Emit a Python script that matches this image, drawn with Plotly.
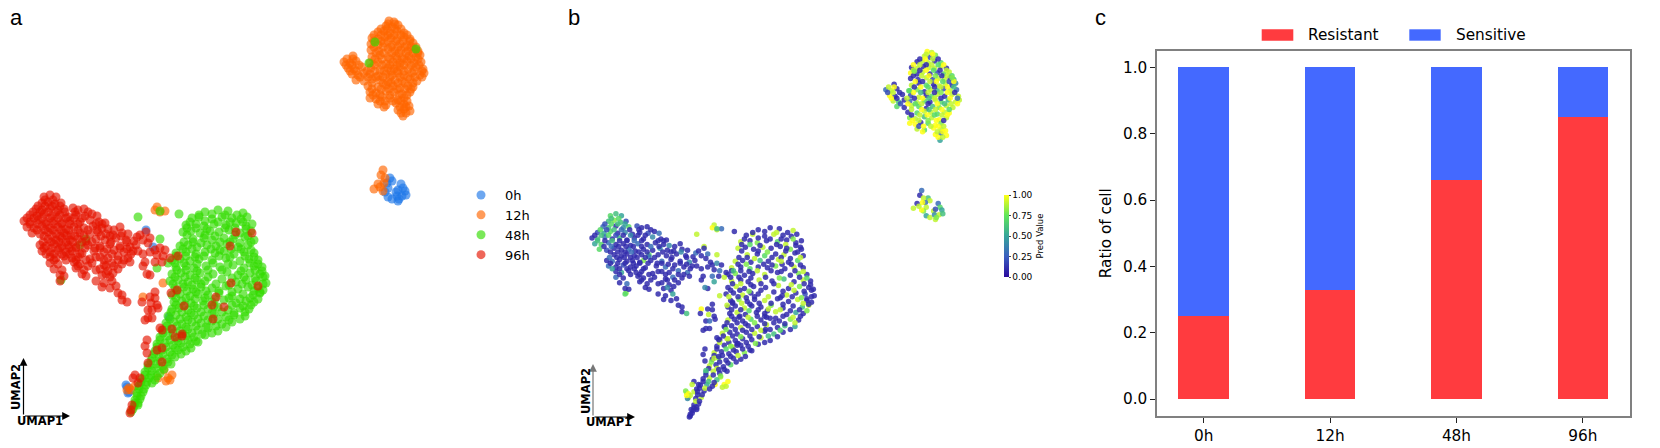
import plotly.graph_objects as go

W, H = 1660, 448

time_labels = ['0h', '12h', '48h', '96h']
resistant = [0.25, 0.33, 0.66, 0.85]
sensitive = [0.75, 0.67, 0.34, 0.15]

cells_0h = [
    (390,270,.6),(392,267,.9),(387,265,.3),(388,260,.9),(385,256,.8),(388,251,.5),(392,249,.9),(396,256,.9),
    (397,252,.4),(398,247,.9),(401,264,.3),(403,260,.7),(405,257,.5),(402,252,.9),(399,249,.8),(406,253,.6),
    (398,258,.2),(127,61,.9),(129,56,.9),(126,63,.8),(128,55,.4),(146,218,.9),(153,201,.1),(169,131,.2),
]
cells_12h = [
    (389,427,1),(394,426,.9),(386,422,.9),(392,421,.2),(398,423,.8),(378,416,.1),(384,417,.9),(390,415,.9),(397,417,.1),(404,415,.7),
    (372,410,.1),(378,409,.9),(385,411,.1),(391,410,.9),(397,409,.9),(404,411,.9),(410,409,.1),
    (371,404,1),(378,403,.1),(384,405,.9),(392,403,.1),(400,404,.2),(407,403,.7),(413,405,.9),
    (371,398,.1),(379,397,.1),(388,399,.9),(395,397,.2),(401,398,.9),(408,397,.9),(414,399,.1),(418,397,.6),
    (353,392,.1),(372,391,.9),(380,393,.1),(388,391,.7),(396,392,.1),(402,390,.9),(409,392,.9),(416,391,.1),(420,393,.4),
    (344,386,.3),(350,385,.9),(356,387,.1),(370,385,.7),(378,386,.8),(386,384,.1),(393,386,.9),(400,385,.6),(407,387,.2),(414,385,.9),(421,386,.3),
    (348,380,1),(354,379,.1),(362,381,.1),(371,380,.2),(380,378,.9),(388,380,.1),(394,379,.7),(400,381,.9),(408,379,.1),(416,381,.9),(423,379,.9),
    (352,374,.9),(358,373,.6),(364,375,.1),(370,374,.3),(378,372,.9),(386,374,.7),(392,373,.1),(398,375,.9),(404,373,.7),(412,375,.6),(420,373,.9),(424,375,.9),
    (356,368,.7),(364,367,.1),(372,369,.9),(380,368,.7),(388,366,.1),(395,368,.6),(402,367,.8),(410,369,.9),(417,367,.9),
    (368,362,.1),(378,361,.7),(386,363,.9),(393,362,.9),(400,360,.7),(408,362,.9),(413,361,1),
    (370,356,.8),(376,355,.9),(386,357,.6),(394,356,.9),(402,354,1),(410,356,.9),
    (370,350,1),(376,349,1),(382,351,.1),(390,350,.7),(398,348,1),(404,350,.8),
    (378,344,.9),(386,343,.7),(396,345,1),(404,344,.9),(409,342,1),
    (398,338,1),(404,339,.3),(410,337,1),(403,332,.5),
    (388,424,.9),(395,424,1),(381,419,.1),(387,419,1),(395,419,.9),(401,419,.1),
    (374,413,1),(381,413,.9),(388,413,.1),(394,413,.9),(401,413,.7),(407,413,1),
    (374,407,.9),(381,407,.1),(388,407,1),(396,407,.7),(403,407,.1),(410,407,.9),
    (374,401,.1),(383,401,.9),(391,401,1),(398,401,.8),(405,401,.1),(411,401,.9),(416,401,.7),
    (376,395,1),(384,395,.1),(392,395,.9),(399,395,1),(406,395,.7),(413,395,.2),(418,395,1),
    (347,389,.9),(353,389,1),(375,389,.1),(382,389,1),(390,389,.7),(397,389,.1),(404,389,.9),(411,389,1),(418,389,.6),
    (346,383,.2),(352,383,.9),(359,383,.1),(374,383,1),(382,383,.6),(390,383,.9),(397,383,.1),(404,383,.8),(411,383,1),(419,383,.1),
    (350,377,1),(356,377,.1),(367,377,.9),(375,377,.1),(384,377,1),(391,377,.6),(397,377,.9),(404,377,.1),(414,377,1),(422,377,.3),
    (360,371,.2),(368,371,1),(376,371,.7),(383,371,.9),(390,371,.1),(400,371,1),(408,371,.6),(415,371,.9),(422,371,1),
    (372,365,.9),(383,365,1),(391,365,.6),(398,365,.9),(405,365,1),(413,365,.7),
    (372,359,.1),(381,359,.9),(389,359,1),(397,359,.7),(405,359,.9),(411,359,1),
    (373,353,1),(380,353,.9),(390,353,.8),(399,353,1),(407,353,.1),
    (380,347,.2),(385,347,1),(393,347,.9),(401,347,1),(407,347,.9),
    (384,341,1),(400,341,.9),(406,341,1),(401,335,1),(406,335,.9),
    (383,278,.3),(381,273,.1),(385,270,.9),(384,265,1),(378,264,.1),(374,259,.9),(383,257,1),(380,261,.9),
    (157,241,.9),(160,236,.9),(165,237,.3),(155,238,1),(168,70,1),(170,68,.9),(166,67,.9),(172,73,1),(164,78,.9),(158,70,1),
    (143,151,1),(163,165,.9),(129,60,1),(131,58,.9),(135,62,.9),(127,58,1),
]
cells_48h = [
    (205,236,.1),(218,238,.1),(228,237,.1),(243,235,.9),
    (192,230,.1),(199,231,.9),(212,229,.1),(222,231,.9),(232,230,.1),(241,229,.1),(247,231,.1),
    (186,223,.9),(196,224,.1),(204,222,.8),(214,224,.1),(226,223,.7),(236,225,.1),(246,222,.1),(252,224,.1),
    (183,216,.9),(191,217,.1),(200,215,.1),(210,217,.9),(219,216,.1),(229,218,.1),(240,215,.8),(251,217,.1),
    (193,209,.9),(204,210,.1),(212,208,.7),(224,210,.1),(233,209,.9),(245,211,.1),(254,208,.1),
    (180,202,.9),(188,203,.1),(197,201,.1),(207,203,.6),(216,202,.1),(227,204,.9),(238,201,.1),(248,203,.7),
    (176,195,.9),(186,196,.1),(196,194,.7),(205,196,.1),(215,195,.1),(224,197,.8),(234,194,.1),(244,196,.9),(254,195,.1),
    (172,188,.1),(180,189,.8),(190,187,.1),(199,189,.1),(212,188,.9),(226,190,.1),(240,187,.1),(249,189,.8),(258,188,.1),
    (176,181,.9),(186,182,.1),(194,180,.1),(206,182,.9),(220,181,.1),(233,183,.6),(244,180,.1),(254,182,.9),(262,181,.1),
    (172,174,.1),(181,175,.9),(190,173,.1),(200,175,.1),(213,174,.1),(227,176,.9),(238,173,.1),(250,175,.8),(260,174,.1),(265,172,.1),
    (170,167,.1),(178,168,.1),(188,166,.9),(197,168,.1),(205,167,.1),(222,169,.1),(236,166,.9),(246,168,.1),(256,167,.2),(266,165,.1),
    (175,160,.1),(184,161,.8),(193,159,.1),(201,161,.1),(212,160,.9),(226,162,.1),(238,159,.1),(248,161,.9),(258,160,.1),(263,158,.1),
    (172,153,.1),(180,154,.1),(190,152,.9),(198,154,.1),(208,153,.1),(219,155,.8),(232,152,.1),(243,154,.1),(253,153,.6),(260,155,.9),
    (174,146,.1),(182,147,.9),(191,145,.1),(203,147,.1),(212,146,.1),(224,148,.9),(236,145,.1),(246,147,.5),(254,146,.1),
    (172,139,.9),(179,140,.1),(188,138,.1),(197,140,.7),(208,139,.1),(218,141,.1),(228,138,.1),(240,140,.8),(249,139,.1),
    (168,132,.1),(176,133,.1),(186,131,.9),(194,133,.1),(204,132,.1),(214,134,.9),(226,131,.1),(234,133,.6),(245,132,.5),
    (166,125,.9),(174,126,.1),(182,124,.1),(192,126,.1),(201,125,.9),(212,127,.1),(222,124,.6),(232,126,.1),
    (163,118,.1),(171,119,.9),(180,117,.1),(188,119,.1),(198,118,.1),(208,120,.9),(218,117,.1),
    (160,111,.1),(168,112,.1),(177,110,.9),(186,112,.1),(194,111,.1),(205,113,.1),
    (157,104,.9),(165,105,.1),(173,103,.1),(181,105,.1),(190,104,.8),(198,106,.1),
    (155,97,.1),(162,98,.8),(170,96,.1),(178,98,.1),(186,97,.1),
    (152,90,.9),(159,91,.1),(167,89,.1),(175,91,.7),
    (148,83,.5),(156,84,.9),(163,82,.1),(171,84,.1),
    (145,76,.1),(152,77,.9),(160,75,.6),(142,69,.1),(149,70,.5),(155,68,.1),
    (139,62,.1),(146,63,.1),(137,55,.1),(143,56,.9),(135,48,.1),(140,49,.1),(134,42,.1),(138,43,.1),(131,36,.1),
    (179,234,.1),(138,231,.9),(160,209,.9),(157,180,.5),(86,209,.7),(80,203,.8),(61,168,.8),(160,237,.6),(168,185,.9),
    (375,406,.8),(416,399,.8),(369,385,.7),
    (199,233,.1),(212,234,.1),(225,233,.9),(237,233,.1),(190,226,.1),(205,227,.1),(218,226,.1),(230,226,.1),(243,226,.8),
    (187,220,.1),(196,220,.7),(207,219,.1),(225,220,.1),(235,220,.9),(246,219,.1),(187,213,.1),(205,213,.1),(215,212,.8),(235,213,.1),(248,212,.1),
    (184,206,.1),(193,206,.1),(201,205,.9),(220,206,.1),(230,206,.1),(240,205,.1),(251,206,.9),(183,199,.1),(192,199,.8),(211,199,.1),(220,198,.1),(231,199,.1),(241,199,.1),(251,198,.1),
    (176,192,.1),(186,192,.1),(195,191,.1),(204,192,.9),(219,192,.1),(230,191,.1),(245,192,.1),(254,191,.9),(175,185,.1),(184,185,.1),(197,184,.1),(213,185,.1),(228,184,.8),(250,185,.1),(258,184,.7),
    (177,178,.1),(186,178,.9),(197,177,.1),(208,178,.1),(222,178,.1),(241,177,.9),(255,178,.1),(262,177,.1),(175,171,.1),(185,171,.1),(195,170,.8),(208,171,.1),(232,170,.1),(244,171,.9),(255,170,.1),(263,171,.1),
    (173,164,.9),(183,164,.1),(192,163,.1),(201,164,.1),(216,164,.9),(229,163,.1),(242,164,.1),(252,163,.8),(263,164,.1),(177,157,.1),(187,157,.9),(196,156,.1),(206,157,.1),(219,157,.1),(232,156,.1),(254,157,.9),(260,156,.1),
    (176,150,.1),(186,150,.1),(195,149,.7),(205,150,.1),(215,149,.1),(229,150,.9),(240,149,.1),(250,150,.1),(258,149,.8),(176,143,.1),(185,143,.1),(194,142,.9),(204,143,.1),(214,142,.1),(232,143,.1),(243,142,.9),(251,143,.1),
    (171,136,.1),(182,136,.1),(191,135,.1),(201,136,.8),(212,135,.1),(222,136,.1),(234,135,.1),(245,136,.9),(170,129,.8),(180,129,.1),(188,128,.1),(198,129,.1),(208,128,.9),(218,129,.1),(229,128,.7),(240,129,.1),
    (167,122,.1),(177,122,.1),(186,121,.8),(196,122,.1),(206,121,.1),(216,122,.6),(226,121,.1),(163,115,.9),(173,115,.1),(183,114,.1),(192,115,.1),(202,114,.8),(212,115,.1),
    (160,108,.1),(170,108,.7),(178,107,.1),(188,108,.1),(196,107,.1),(157,101,.1),(166,101,.1),(175,100,.1),(183,101,.9),(191,100,.1),(154,94,.8),(163,94,.1),(172,93,.1),(181,94,.1),
    (151,87,.1),(160,87,.9),(168,86,.1),(148,80,.1),(156,80,.1),(164,79,.8),(145,73,.1),(151,73,.6),(157,72,.1),(141,66,.1),(147,66,.9),(152,65,.1),(139,59,.1),(144,59,.1),(137,52,.9),(141,52,.1),(135,45,.1),(138,45,.1),(133,39,.1),
]
cells_96h = [
    (44,251,.7),(50,253,.6),(56,251,.5),(42,245,.6),(48,246,.8),(55,244,.6),(61,245,.2),
    (36,239,.3),(42,238,.6),(50,240,.1),(58,238,.4),(64,239,.7),(73,240,.2),(78,238,.1),(84,239,.1),
    (30,233,.2),(37,232,.5),(44,234,.7),(52,232,.1),(60,233,.4),(68,231,.1),(76,233,.1),(85,232,.2),(92,234,.1),(97,232,.3),
    (24,227,.1),(30,226,.6),(38,228,.3),(46,226,.1),(54,227,.6),(62,225,.1),(70,227,.1),(80,226,.1),(90,228,.4),(99,226,.1),(105,225,.1),
    (27,221,.5),(34,220,.7),(42,222,.3),(50,220,.1),(58,221,.1),(66,219,.1),(74,221,.3),(84,220,.1),(93,222,.1),(102,220,.1),(108,219,.4),(120,221,.1),
    (32,215,.7),(40,214,.2),(48,216,.1),(56,214,.1),(64,215,.3),(71,213,.1),(80,215,.1),(90,214,.1),(98,216,.4),(106,214,.1),(113,213,.1),(122,215,.1),
    (48,209,.1),(56,208,.1),(62,210,.1),(70,208,.1),(78,209,.1),(86,207,.3),(96,209,.1),(105,208,.1),(116,210,.1),(126,208,.1),(134,207,.1),
    (40,203,.1),(46,202,.3),(54,204,.1),(62,202,.1),(68,203,.1),(76,201,.1),(88,203,.1),(100,202,.3),(110,204,.1),(120,202,.1),(130,201,.4),(136,203,.1),
    (42,197,.3),(50,196,.1),(58,198,.2),(66,196,.1),(72,197,.1),(82,195,.1),(94,197,.1),(104,196,.3),(114,198,.1),(124,196,.1),(133,197,.1),
    (50,191,.1),(56,190,.5),(64,192,.1),(72,190,.1),(78,191,.1),(90,189,.1),(100,191,.1),(108,190,.1),(118,192,.3),(128,190,.3),
    (50,185,.3),(58,184,.1),(74,186,.1),(80,184,.1),(92,185,.1),(104,183,.1),(112,185,.3),(122,184,.1),(130,186,.1),
    (54,179,.1),(62,178,.3),(76,180,.1),(84,178,.1),(100,179,.1),(108,177,.1),(118,179,.1),
    (60,173,.1),(64,172,.1),(82,174,.1),(86,172,.1),(102,173,.1),(110,171,.1),(106,174,.4),
    (60,167,.7),(96,167,.1),(104,165,.1),(112,167,.5),(102,161,.1),(110,160,.1),(116,162,.1),(118,155,.1),(122,153,.1),(122,148,.1),(127,146,.6),
    (45,248,.6),(53,248,.7),(38,242,.2),(45,242,.7),(52,242,.6),(60,242,.5),(33,236,.7),(40,236,.2),(48,236,.6),(56,236,.3),(65,236,.1),(75,236,.1),(88,236,.1),
    (27,230,.1),(34,230,.6),(42,230,.7),(50,230,.2),(58,230,.1),(66,230,.4),(74,230,.1),(82,230,.1),(30,224,.6),(38,224,.1),(46,224,.6),(54,224,.1),(62,224,.1),(70,224,.3),(78,224,.1),(96,224,.1),
    (37,218,.1),(45,218,.3),(53,218,.1),(61,218,.1),(69,218,.1),(78,218,.1),(88,218,.3),(97,218,.1),(114,218,.1),(44,212,.1),(52,212,.1),(60,212,.1),(67,212,.3),(75,212,.1),(84,212,.1),(101,212,.1),(121,212,.4),
    (43,206,.3),(51,206,.1),(59,206,.1),(66,206,.1),(73,206,.1),(82,206,.1),(92,206,.1),(111,206,.1),(127,206,.1),(44,200,.1),(52,200,.1),(60,200,.1),(69,200,.1),(76,200,.1),(85,200,.1),(100,200,.1),(120,200,.1),
    (46,194,.5),(54,194,.1),(62,194,.1),(70,194,.1),(80,194,.1),(112,194,.1),(131,194,.1),(54,188,.1),(66,188,.1),(76,188,.1),(86,188,.1),(104,188,.1),(118,188,.1),(78,182,.1),(88,182,.1),(106,182,.1),(114,182,.1),
    (102,224,.1),(110,212,.1),(128,214,.1),(137,211,.3),(95,200,.1),(107,199,.1),(127,199,.1),(138,197,.1),(96,191,.1),(124,188,.1),(96,178,.1),(113,175,.1),
    (140,213,.1),(146,216,.1),(150,210,.3),(143,208,.1),(148,205,.1),(155,198,.1),(160,200,.4),(165,198,.1),(150,196,.1),(157,193,.1),
    (163,192,.3),(143,194,.1),(145,186,.1),(155,186,.3),(162,186,.1),(170,190,.1),(178,192,.6),(150,173,.1),(147,174,.4),(143,182,.1),
    (150,151,.1),(155,156,.1),(151,145,.9),(148,138,.1),(152,138,.3),(157,143,.1),(148,130,.1),(152,130,.1),(158,140,.1),(145,128,.1),(142,146,.1),(155,150,.1),
    (236,216,.1),(252,215,.1),(230,202,.9),(231,165,.1),(258,162,.1),(216,151,.9),(212,143,.1),(213,129,.1),(224,141,.1),(177,158,.1),
    (171,155,.9),(184,142,.1),(182,112,.1),(175,111,.8),(182,114,.1),(162,118,.1),(160,120,.1),(172,119,.9),(147,108,.1),(145,102,.1),
    (147,95,.1),(157,98,.9),(162,100,.1),(162,86,.1),(148,85,.6),(135,73,.1),(133,70,.9),(138,65,.1),(140,70,.1),(130,35,.1),(131,38,.1),(132,43,.1),
]

series = [cells_0h, cells_12h, cells_48h, cells_96h]
series_colors = ['#1F78E8', '#FF6600', '#32DC00', '#E51400']
pred_scale = [[0, '#2B0A9E'], [0.25, '#3A5FC0'], [0.5, '#36A59A'], [0.75, '#5FE65A'], [1, '#FFFF14']]
bar_colors = {'Resistant': '#FF3B3F', 'Sensitive': '#4469FF'}
font_name = 'DejaVu Sans'

fig = go.Figure()

for label, cells, color in zip(time_labels, series, series_colors):
    fig.add_trace(go.Scatter(x=[c[0] for c in cells], y=[c[1] for c in cells], mode='markers', name=label,
                             marker=dict(size=9, color=color, opacity=0.65, line=dict(width=0)),
                             xaxis='x', yaxis='y'))

all_cells = cells_0h + cells_12h + cells_48h + cells_96h
fig.add_trace(go.Scatter(x=[c[0] for c in all_cells], y=[c[1] for c in all_cells], mode='markers', showlegend=False,
                         marker=dict(size=5.5, color=[c[2] for c in all_cells], cmin=0, cmax=1, colorscale=pred_scale,
                                     opacity=0.85, line=dict(width=0),
                                     colorbar=dict(thickness=5, len=82, lenmode='pixels', x=1004 / W, xanchor='left',
                                                   y=(H - 277) / H, yanchor='bottom', outlinewidth=0, ticks='outside',
                                                   xpad=0, ypad=0, ticklen=2, tickwidth=1, tickvals=[0, 0.25, 0.5, 0.75, 1],
                                                   ticktext=['0.00', '0.25', '0.50', '0.75', '1.00'],
                                                   tickfont=dict(size=9, family=font_name, color='black'),
                                                   title=dict(text='Pred Value', side='right',
                                                              font=dict(size=8.5, family=font_name, color='black')))),
                         xaxis='x2', yaxis='y2'))

for name, values in [('Resistant', resistant), ('Sensitive', sensitive)]:
    fig.add_trace(go.Bar(x=time_labels, y=values, name=name, width=0.4, showlegend=False,
                         marker=dict(color=bar_colors[name], line=dict(width=0)), xaxis='x3', yaxis='y3'))

annotations = []
shapes = []


def add_text(x, y, text, size, family=font_name, angle=0, bold=False, xanchor='center'):
    annotations.append(dict(xref='paper', yref='paper', x=x / W, y=1 - y / H, text='<b>%s</b>' % text if bold else text,
                            showarrow=False, textangle=angle, xanchor=xanchor, yanchor='middle',
                            font=dict(size=size, family=family, color='black')))


def add_arrow(x0, y0, x1, y1, color='black'):
    annotations.append(dict(xref='paper', yref='paper', x=x1 / W, y=1 - y1 / H, axref='pixel', ayref='pixel',
                            ax=x0 - x1, ay=y0 - y1, text='', showarrow=True, arrowhead=2, arrowsize=1.3,
                            arrowwidth=1.2, arrowcolor=color))


add_text(16, 17, 'a', 22, 'Liberation Sans')
add_text(574, 17, 'b', 22, 'Liberation Sans')
add_text(1100, 17, 'c', 22, 'Liberation Sans')

add_arrow(23.5, 416, 23.5, 358)
add_arrow(23.5, 416, 70, 416)
add_text(40, 421, 'UMAP1', 11.5, bold=True)
add_text(16, 387, 'UMAP2', 11.5, angle=-90, bold=True)

add_arrow(593, 417, 593, 364, '#777777')
add_arrow(593, 417, 635, 417)
add_text(609, 422, 'UMAP1', 11.5, bold=True)
add_text(586, 391, 'UMAP2', 11.5, angle=-90, bold=True)

for x0, x1, name in [(1261.7, 1293.3, 'Resistant'), (1409.3, 1440.7, 'Sensitive')]:
    shapes.append(dict(type='rect', xref='paper', yref='paper', x0=x0 / W, x1=x1 / W, y0=1 - 40.7 / H, y1=1 - 29.3 / H,
                       fillcolor=bar_colors[name], line=dict(width=0)))
    add_text(x1 + 13, 35, name, 15.3, xanchor='left')

hidden = dict(visible=False, showgrid=False, zeroline=False)
fig.update_layout(
    width=W, height=H, margin=dict(l=0, r=0, t=0, b=0), autosize=False, barmode='stack',
    paper_bgcolor='white', plot_bgcolor='white', font=dict(family=font_name, color='black'),
    annotations=annotations, shapes=shapes,
    legend=dict(x=457 / W, xanchor='left', y=1 - 180 / H, yanchor='top', font=dict(size=13), itemsizing='trace',
                itemwidth=38, bgcolor='rgba(0,0,0,0)', traceorder='normal'),
    xaxis=dict(domain=[0, 440 / W], range=[0, 440], **hidden),
    yaxis=dict(domain=[0, 1], range=[0, 448], **hidden),
    xaxis2=dict(domain=[570 / W, 974 / W], range=[0, 440], anchor='y2', **hidden),
    yaxis2=dict(domain=[3 / H, 416 / H], range=[5, 448], anchor='x2', **hidden),
    xaxis3=dict(domain=[1157.3 / W, 1630 / W], range=[-0.367, 3.373], anchor='y3', type='category', showline=True, mirror=True,
                linecolor='#808080', linewidth=1.8, ticks='outside', ticklen=5, tickcolor='#222222', tickwidth=1,
                tickfont=dict(size=15.3), showgrid=False, zeroline=False),
    yaxis3=dict(domain=[32.3 / H, 397.3 / H], range=[-0.05, 1.05], anchor='x3', showline=True, mirror=True,
                linecolor='#808080', linewidth=1.8, ticks='outside', ticklen=5, tickcolor='#222222', tickwidth=1,
                tickvals=[0, 0.2, 0.4, 0.6, 0.8, 1.0], tickformat='.1f', tickfont=dict(size=15.3), showgrid=False,
                zeroline=False, title=dict(text='Ratio of cell', font=dict(size=15.3), standoff=8)),
)

fig.write_html("out.html", config={'displayModeBar': False}, post_script="document.body.style.margin='0';")
